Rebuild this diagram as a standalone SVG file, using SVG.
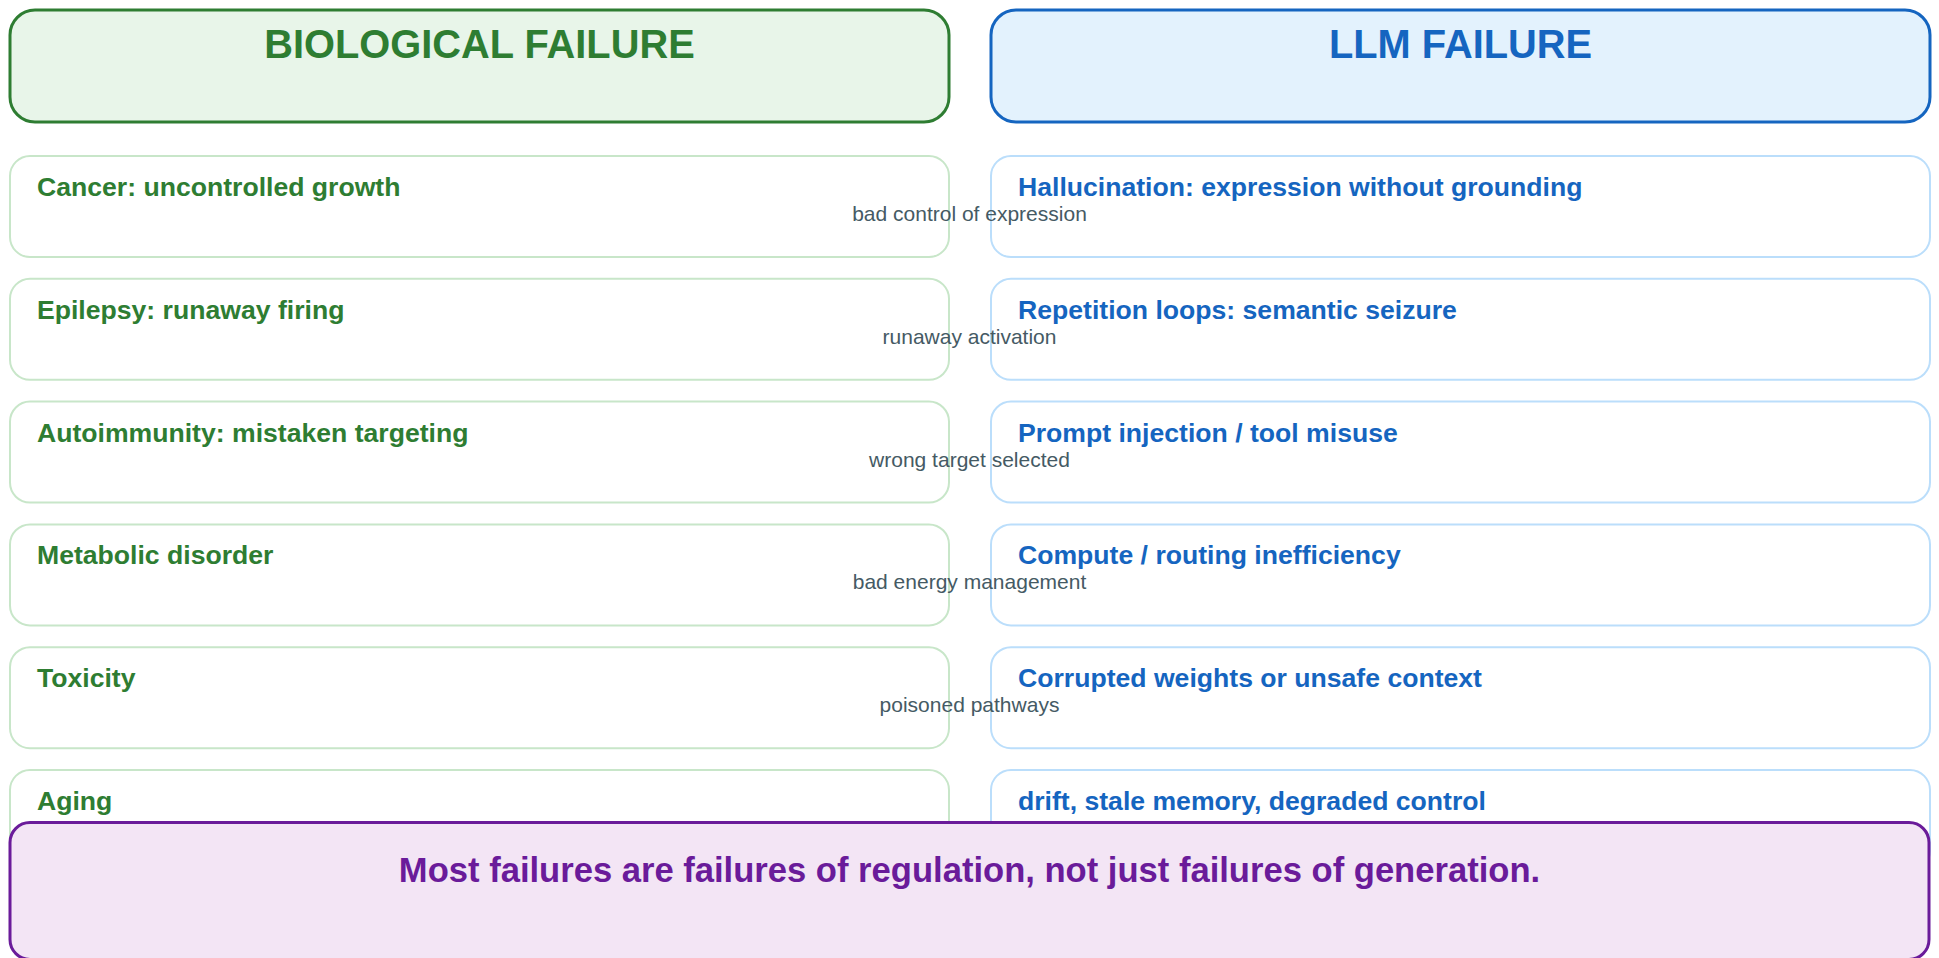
<svg xmlns="http://www.w3.org/2000/svg" width="1939" height="958" viewBox="0 0 1939 958">
<style>
text{font-family:"Liberation Sans",Arial,sans-serif}
.hb{fill:#e8f5e9;stroke:#2e7d32;stroke-width:3}
.hl{fill:#e3f2fd;stroke:#1565c0;stroke-width:3}
.cb{fill:#ffffff;stroke:#c8e6c9;stroke-width:2}
.cl{fill:#ffffff;stroke:#bbdefb;stroke-width:2}
.ht{font-size:39.8px;font-weight:bold;text-anchor:middle}
.tg{font-size:26.6px;font-weight:bold;fill:#2e7d32}
.tb{font-size:26.6px;font-weight:bold;fill:#1565c0}
.lbl{font-size:21px;fill:#455a64;text-anchor:middle}
</style>
<g id="bio-header"><rect class="hb" x="10" y="10" width="939" height="112" rx="25"/><text class="ht" x="479.5" y="58" fill="#2e7d32">BIOLOGICAL FAILURE</text></g>
<g id="llm-header"><rect class="hl" x="991" y="10" width="939" height="112" rx="25"/><text class="ht" x="1460.5" y="58" fill="#1565c0">LLM FAILURE</text></g>

<g id="bio-cancer"><rect class="cb" x="10" y="156" width="939" height="101" rx="20"/><text class="tg" x="37" y="196">Cancer: uncontrolled growth</text></g>
<g id="bio-epilepsy"><rect class="cb" x="10" y="278.8" width="939" height="101" rx="20"/><text class="tg" x="37" y="318.8">Epilepsy: runaway firing</text></g>
<g id="bio-autoimmunity"><rect class="cb" x="10" y="401.6" width="939" height="101" rx="20"/><text class="tg" x="37" y="441.6">Autoimmunity: mistaken targeting</text></g>
<g id="bio-metabolic"><rect class="cb" x="10" y="524.4" width="939" height="101" rx="20"/><text class="tg" x="37" y="564.4">Metabolic disorder</text></g>
<g id="bio-toxicity"><rect class="cb" x="10" y="647.2" width="939" height="101" rx="20"/><text class="tg" x="37" y="687.2">Toxicity</text></g>
<g id="bio-aging"><rect class="cb" x="10" y="770" width="939" height="101" rx="20"/><text class="tg" x="37" y="810">Aging</text></g>

<g id="llm-hallucination"><rect class="cl" x="991" y="156" width="939" height="101" rx="20"/><text class="tb" x="1018" y="196">Hallucination: expression without grounding</text></g>
<g id="llm-repetition"><rect class="cl" x="991" y="278.8" width="939" height="101" rx="20"/><text class="tb" x="1018" y="318.8">Repetition loops: semantic seizure</text></g>
<g id="llm-injection"><rect class="cl" x="991" y="401.6" width="939" height="101" rx="20"/><text class="tb" x="1018" y="441.6">Prompt injection / tool misuse</text></g>
<g id="llm-compute"><rect class="cl" x="991" y="524.4" width="939" height="101" rx="20"/><text class="tb" x="1018" y="564.4">Compute / routing inefficiency</text></g>
<g id="llm-corrupted"><rect class="cl" x="991" y="647.2" width="939" height="101" rx="20"/><text class="tb" x="1018" y="687.2">Corrupted weights or unsafe context</text></g>
<g id="llm-drift"><rect class="cl" x="991" y="770" width="939" height="101" rx="20"/><text class="tb" x="1018" y="810">drift, stale memory, degraded control</text></g>

<g id="connectors">
<text class="lbl" x="969.5" y="221">bad control of expression</text>
<text class="lbl" x="969.5" y="343.8">runaway activation</text>
<text class="lbl" x="969.5" y="466.6">wrong target selected</text>
<text class="lbl" x="969.5" y="589.4">bad energy management</text>
<text class="lbl" x="969.5" y="712.2">poisoned pathways</text>
</g>

<g id="summary"><rect x="10" y="822.5" width="1919" height="137" rx="20" fill="#f3e5f5" stroke="#6a1b9a" stroke-width="3"/><text x="969.5" y="882" font-size="34.6" font-weight="bold" fill="#6a1b9a" text-anchor="middle">Most failures are failures of regulation, not just failures of generation.</text></g>
</svg>
